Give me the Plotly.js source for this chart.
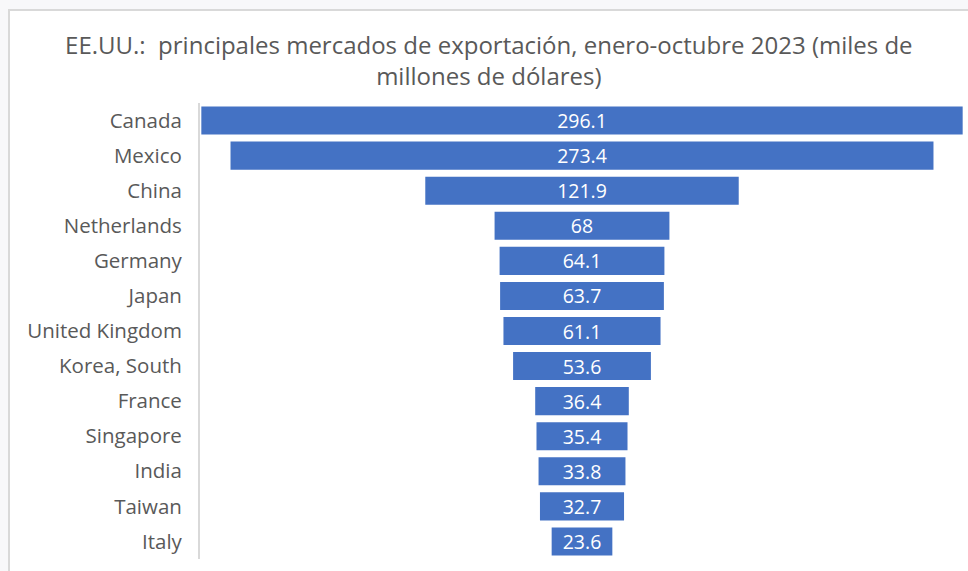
<!DOCTYPE html>
<html>
<head>
<meta charset="utf-8">
<script src="https://cdn.plot.ly/plotly-3.0.1.min.js"></script>
<style>
  html, body { margin: 0; padding: 0; background: #f8f8fa; width: 968px; height: 571px; overflow: hidden; }
  #frame { position: absolute; left: 8px; top: 9px; width: 1000px; height: 600px; background: #ffffff;
           border-left: 2px solid #d9d9d9; border-top: 2px solid #d9d9d9; }
  #chart { position: absolute; left: 0; top: 0; width: 968px; height: 571px; }
</style>
</head>
<body>
<div id="frame"></div>
<div id="chart"></div>
<script>
const countries = ["Canada", "Mexico", "China", "Netherlands", "Germany", "Japan", "United Kingdom",
                   "Korea, South", "France", "Singapore", "India", "Taiwan", "Italy"];
const exportsBn = [296.1, 273.4, 121.9, 68, 64.1, 63.7, 61.1, 53.6, 36.4, 35.4, 33.8, 32.7, 23.6];
const chartTitle = "EE.UU.:  principales mercados de exportación, enero-octubre 2023 (miles de<br>millones de dólares)";

const FONT = "'Open Sans', 'Noto Sans', sans-serif";

const trace = {
  type: "funnel",
  y: countries,
  x: exportsBn,
  texttemplate: "%{x}",
  textposition: "inside",
  insidetextanchor: "middle",
  constraintext: "none",
  insidetextfont: { family: FONT, size: 19.5, color: "#ffffff" },
  marker: { color: "#4472c4", line: { width: 0 } },
  connector: { visible: false },
  hoverinfo: "x+y"
};

const maxVal = Math.max(...exportsBn);
const layout = {
  width: 968,
  height: 571,
  paper_bgcolor: "rgba(0,0,0,0)",
  plot_bgcolor: "rgba(0,0,0,0)",
  margin: { l: 200, r: 4, t: 103, b: 12 },
  showlegend: false,
  bargap: 0.06,
  title: {
    text: chartTitle,
    font: { family: FONT, size: 24, color: "#595959" },
    x: 0.505,
    xanchor: "center",
    xref: "container",
    yref: "container",
    y: 1 - 54 / 571,
    yanchor: "top"
  },
  xaxis: {
    visible: false,
    range: [-maxVal / 2 * 1.0035, maxVal / 2 * 1.0035],
    fixedrange: true
  },
  yaxis: {
    showline: true,
    linecolor: "#d9d9d9",
    linewidth: 2,
    ticks: "",
    ticklabelstandoff: 12,
    tickfont: { family: FONT, size: 20.5, color: "#595959" },
    showgrid: false,
    zeroline: false,
    fixedrange: true
  }
};

Plotly.newPlot("chart", [trace], layout, { displayModeBar: false, staticPlot: true });
</script>
</body>
</html>
